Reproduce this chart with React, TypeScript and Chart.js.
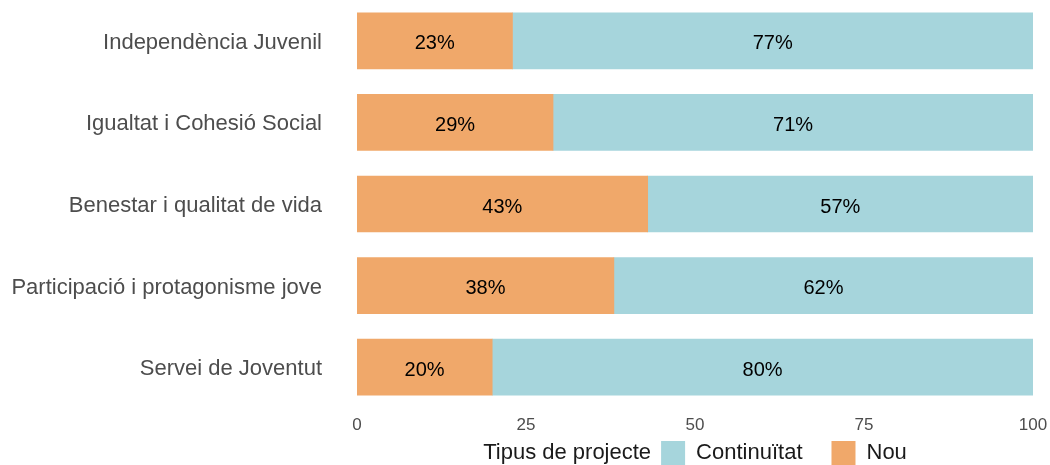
import React, { useEffect, useRef } from "react";
import { Chart, registerables } from "chart.js";

Chart.register(...registerables);

const categories = [
  "Independència Juvenil",
  "Igualtat i Cohesió Social",
  "Benestar i qualitat de vida",
  "Participació i protagonisme jove",
  "Servei de Joventut",
];
const nouValues = [23, 29, 43, 38, 20];
const continuitatValues = [77, 71, 57, 62, 80];
const xTicks = [0, 25, 50, 75, 100];
const legendTitle = "Tipus de projecte";
const legendOrder = ["Continuïtat", "Nou"];

const FONT = "'Liberation Sans', Arial, sans-serif";
const ORANGE = "#F0A86A";
const BLUE = "#A6D5DC";

const labelsPlugin = {
  id: "barLabels",
  afterDatasetsDraw(chart: any) {
    const ctx = chart.ctx;
    ctx.save();
    ctx.font = `20px ${FONT}`;
    ctx.fillStyle = "#000000";
    ctx.textAlign = "center";
    ctx.textBaseline = "middle";
    chart.data.datasets.forEach((ds: any, di: number) => {
      const meta = chart.getDatasetMeta(di);
      meta.data.forEach((bar: any, i: number) => {
        const v = ds.data[i];
        const p = bar.getProps(["x", "y", "base"], true);
        const cx = (p.x + p.base) / 2;
        ctx.fillText(`${v}%`, cx, p.y + 3);
      });
    });
    ctx.restore();
  },
};

const legendPlugin = {
  id: "customLegend",
  afterDraw(chart: any) {
    const ctx = chart.ctx;
    const area = chart.chartArea;
    ctx.save();
    ctx.font = `22px ${FONT}`;
    ctx.textBaseline = "middle";
    ctx.textAlign = "left";
    const box = 24;
    const gapTitle = 10;
    const gapBox = 11;
    const gapItem = 29;
    const items = legendOrder.map((lbl) => {
      const ds = chart.data.datasets.find((d: any) => d.label === lbl);
      return { label: lbl, color: ds ? ds.backgroundColor : "#ccc" };
    });
    const titleW = ctx.measureText(legendTitle).width;
    let total = titleW + gapTitle;
    items.forEach((it, i) => {
      total += box + gapBox + ctx.measureText(it.label).width;
      if (i < items.length - 1) total += gapItem;
    });
    let x = (area.left + area.right) / 2 - total / 2;
    const cy = 453;
    ctx.fillStyle = "#1a1a1a";
    ctx.fillText(legendTitle, x, cy);
    x += titleW + gapTitle;
    items.forEach((it, i) => {
      ctx.fillStyle = it.color;
      ctx.fillRect(x, cy - box / 2, box, box);
      x += box + gapBox;
      ctx.fillStyle = "#1a1a1a";
      ctx.fillText(it.label, x, cy);
      x += ctx.measureText(it.label).width;
      if (i < items.length - 1) x += gapItem;
    });
    ctx.restore();
  },
};

export default function App() {
  const ref = useRef<HTMLCanvasElement | null>(null);
  useEffect(() => {
    if (!ref.current) return;
    const chart = new Chart(ref.current, {
      type: "bar",
      data: {
        labels: categories,
        datasets: [
          {
            label: "Nou",
            data: nouValues,
            backgroundColor: ORANGE,
            borderWidth: 0,
            barThickness: 56,
          },
          {
            label: "Continuïtat",
            data: continuitatValues,
            backgroundColor: BLUE,
            borderWidth: 0,
            barThickness: 56,
          },
        ],
      },
      options: {
        indexAxis: "y",
        responsive: false,
        animation: false,
        layout: { padding: { left: 0, right: 17, top: 0, bottom: 0 } },
        plugins: {
          legend: { display: false },
          tooltip: { enabled: false },
        },
        scales: {
          x: {
            stacked: true,
            min: 0,
            max: 100,
            afterBuildTicks: (scale: any) => {
              scale.ticks = xTicks.map((v) => ({ value: v }));
            },
            afterFit: (scale: any) => {
              scale.height = 57;
              scale.paddingLeft = 0;
              scale.paddingRight = 0;
            },
            grid: { display: false, drawTicks: false },
            border: { display: false },
            ticks: {
              padding: 7,
              color: "#4D4D4D",
              font: { family: FONT, size: 17 },
              maxRotation: 0,
            },
          },
          y: {
            stacked: true,
            afterFit: (scale: any) => {
              scale.width = 357;
              scale.paddingTop = 0;
              scale.paddingBottom = 0;
            },
            grid: { display: false, drawTicks: false },
            border: { display: false },
            ticks: {
              padding: 35,
              labelOffset: 2,
              color: "#4D4D4D",
              font: { family: FONT, size: 22 },
            },
          },
        },
      },
      plugins: [labelsPlugin, legendPlugin],
    });
    return () => chart.destroy();
  }, []);
  return (
    <div style={{ position: "absolute", left: 0, top: 0, width: 1050, height: 465, background: "#fff" }}>
      <canvas ref={ref} width={1050} height={465} style={{ display: "block" }} />
    </div>
  );
}
